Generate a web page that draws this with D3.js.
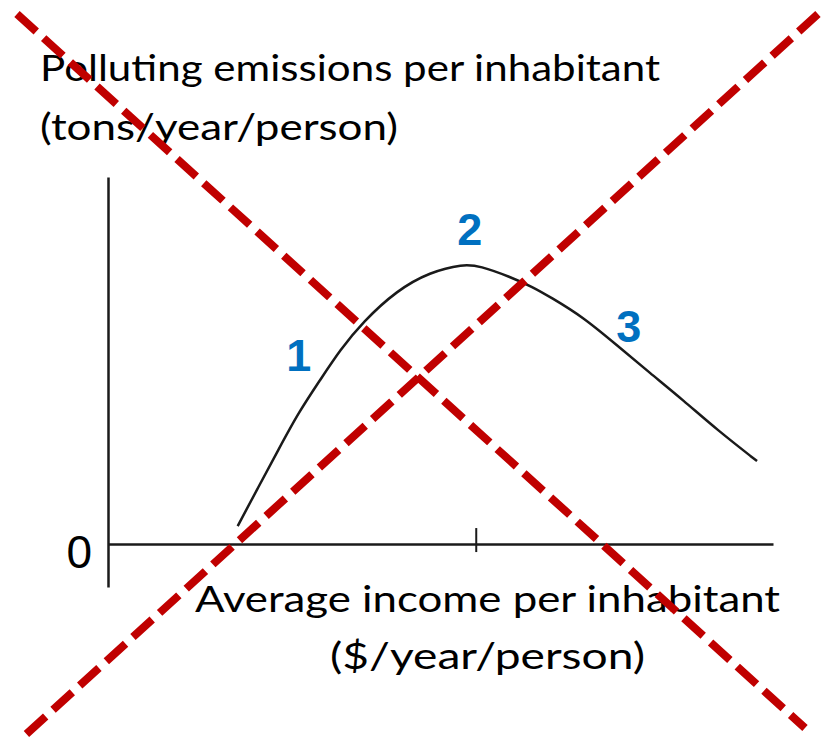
<!DOCTYPE html>
<html>
<head>
<meta charset="utf-8">
<script src="https://cdn.jsdelivr.net/npm/d3@7"></script>
<style>
  html, body { margin: 0; padding: 0; background: #fff; }
  svg { display: block; }
</style>
</head>
<body>
<div id="chart"></div>
<script>
// curve data (arbitrary units)
const income = [19.5, 22.6, 25.6, 28.6, 31.9, 34.9, 38.3, 43.5, 48.4, 53.4, 55.9, 60.5, 63.9, 66.5, 71.4, 76.5, 81.5, 86.5, 91.6, 97.6];
const emissions = [4.9, 15.5, 25.6, 35.7, 44.7, 52.9, 60.5, 69.2, 74.1, 76.3, 75.8, 72.8, 70.0, 67.3, 61.9, 54.2, 46.6, 39.2, 31.1, 22.6];

// stage labels 1, 2, 3
const stageNames = ["1", "2", "3"];
const stageX = [28.7, 54.4, 78.3];
const stageY = [51.5, 85.8, 59.4];

const xTicks = [55.3];
const yTicks = [0];

// red cross drawn over the slide (fractions of the page)
const crossX1 = [0.0207, 0.9963];
const crossY1 = [0.0189, 0.0189];
const crossX2 = [0.9805, 0.0268];
const crossY2 = [0.9838, 0.9973];

const width = 821;
const height = 740;

const svg = d3.select("#chart")
    .append("svg")
    .attr("width", width)
    .attr("height", height);

const x = d3.scaleLinear().domain([0, 100]).range([108, 773]);
const y = d3.scaleLinear().domain([-11.7, 100]).range([587, 177]);

const ink = "#1a1a1a";
const textFont = "Lato, 'Open Sans', sans-serif";

// y axis: vertical line with the "0" label
const yAxis = svg.append("g")
    .attr("transform", `translate(${x(0)},0)`)
    .call(d3.axisLeft(y).tickValues(yTicks).tickSize(0).tickSizeOuter(0).tickPadding(16).tickFormat(d3.format("d")));
yAxis.select(".domain").attr("stroke", ink).attr("stroke-width", 2.5);
yAxis.selectAll("text")
    .attr("font-family", "'Liberation Sans', Arial, sans-serif")
    .attr("font-size", 46)
    .attr("fill", "#000")
    .attr("dy", "0.5em");

// x axis: one tick crossing the line
const xAxis = svg.append("g")
    .attr("transform", `translate(0,${y(0)})`)
    .call(d3.axisBottom(x).tickValues(xTicks).tickSizeOuter(0).tickFormat(""));
xAxis.select(".domain").attr("stroke", ink).attr("stroke-width", 2.5);
xAxis.selectAll(".tick line")
    .attr("stroke", ink)
    .attr("stroke-width", 2)
    .attr("y1", -16)
    .attr("y2", 8);

// curve
const pts = income.map((d, i) => [d, emissions[i]]);
svg.append("path")
    .datum(pts)
    .attr("fill", "none")
    .attr("stroke", ink)
    .attr("stroke-width", 2.5)
    .attr("d", d3.line().x(d => x(d[0])).y(d => y(d[1])).curve(d3.curveBasis));

// stage numbers
svg.selectAll(".stage")
    .data(stageNames)
    .enter()
    .append("text")
    .attr("class", "stage")
    .attr("x", (d, i) => x(stageX[i]))
    .attr("y", (d, i) => y(stageY[i]))
    .attr("text-anchor", "middle")
    .attr("dy", "0.35em")
    .attr("font-family", "'Liberation Sans', Arial, sans-serif")
    .attr("font-weight", "bold")
    .attr("font-size", 45)
    .attr("fill", "#0070C0")
    .text(d => d);

// axis titles
const titles = [
    { text: "Polluting emissions per inhabitant", x: 40, y: 81, len: 620 },
    { text: "(tons/year/person)", x: 40, y: 140, len: 358 },
    { text: "Average income per inhabitant", x: 195, y: 612, len: 585 },
    { text: "($/year/person)", x: 330, y: 669, len: 315 }
];
svg.selectAll(".title")
    .data(titles)
    .enter()
    .append("text")
    .attr("class", "title")
    .attr("x", d => d.x)
    .attr("y", d => d.y)
    .attr("textLength", d => d.len)
    .attr("lengthAdjust", "spacingAndGlyphs")
    .attr("font-family", textFont)
    .attr("font-size", 37)
    .attr("fill", "#000")
    .text(d => d.text);

// red dashed cross
const px = d3.scaleLinear().domain([0, 1]).range([0, width]);
const py = d3.scaleLinear().domain([0, 1]).range([0, height]);
svg.selectAll(".cross")
    .data(crossX1)
    .enter()
    .append("line")
    .attr("class", "cross")
    .attr("x1", (d, i) => px(crossX1[i]))
    .attr("y1", (d, i) => py(crossY1[i]))
    .attr("x2", (d, i) => px(crossX2[i]))
    .attr("y2", (d, i) => py(crossY2[i]))
    .attr("stroke", "#C00000")
    .attr("stroke-width", 8)
    .attr("stroke-dasharray", "26 10");
</script>
</body>
</html>
